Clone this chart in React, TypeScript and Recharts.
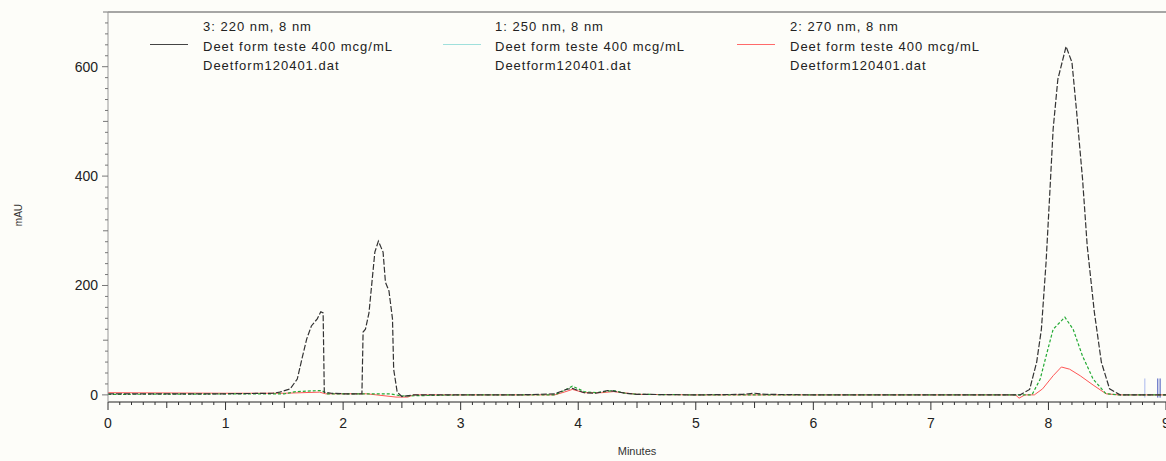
import React from 'react'
import { LineChart, Line, XAxis, YAxis, ReferenceLine } from 'recharts'

// 3: 220 nm trace
const t220 = [0, 0.5, 1.0, 1.4, 1.46, 1.55, 1.61, 1.65, 1.69, 1.73, 1.78, 1.81, 1.83, 1.84, 1.9, 2.0, 2.16, 2.17, 2.19, 2.22, 2.27, 2.3, 2.34, 2.36, 2.39, 2.42, 2.43, 2.46, 2.5, 2.6, 3.0, 3.5, 3.8, 3.9, 3.95, 4.05, 4.15, 4.25, 4.3, 4.4, 4.5, 5.0, 5.4, 5.5, 5.6, 6.0, 7.0, 7.7, 7.76, 7.84, 7.9, 7.94, 7.98, 8.01, 8.04, 8.08, 8.15, 8.2, 8.24, 8.29, 8.33, 8.39, 8.45, 8.52, 8.61, 8.8, 9.0]
const v220 = [2, 2, 2, 3, 5, 11, 29, 66, 102, 126, 139, 152, 150, 5, 3, 2, 2, 115, 120, 150, 261, 281, 261, 206, 190, 139, 47, 5, -3, 0, 0, 0, 2, 10, 12, 4, 3, 8, 7, 3, 1, 0, 1, 3, 1, 0, 0, 0, 0, 10, 60, 120, 243, 363, 486, 577, 637, 608, 517, 395, 272, 152, 60, 11, 0, 0, 0]

// 1: 250 nm trace
const t250 = [0, 1.5, 1.6, 1.7, 1.82, 1.86, 2.0, 2.4, 2.5, 3.0, 3.8, 3.88, 3.95, 4.05, 4.15, 4.3, 4.4, 4.5, 5.0, 7.8, 7.86, 7.93, 7.98, 8.04, 8.14, 8.21, 8.29, 8.38, 8.49, 8.6, 9.0]
const v250 = [1, 2, 6, 7, 8, 2, 2, 2, -2, 0, 0, 8, 16, 6, 4, 8, 3, 1, 0, 0, 0, 29, 71, 120, 142, 120, 71, 29, 2, 0, 0]

// 2: 270 nm trace
const t270 = [0, 1.0, 1.5, 1.8, 1.85, 2.2, 2.45, 2.55, 2.6, 3.0, 3.8, 3.88, 3.95, 4.05, 4.2, 4.3, 4.5, 5.0, 7.0, 7.72, 7.75, 7.8, 7.88, 7.95, 8.04, 8.11, 8.18, 8.27, 8.38, 8.49, 8.6, 9.0]
const v270 = [4, 3, 3, 5, 2, 2, -4, -4, 0, 0, 0, 5, 10, 4, 4, 6, 1, 0, 0, 0, -6, 0, 0, 11, 35, 51, 47, 35, 18, 2, 0, 0]

const eventTimes = [8.82, 8.93, 8.95]
const eventColors = ['#aab8ee', '#4455bb', '#4455bb']

const xLabels = [0, 1, 2, 3, 4, 5, 6, 7, 8, 9]
const yLabels = [0, 200, 400, 600]

const legendItems = [
  { head: '3: 220 nm, 8 nm', color: '#444', left: 150, textLeft: 203 },
  { head: '1: 250 nm, 8 nm', color: '#9fe0dc', left: 443, textLeft: 495 },
  { head: '2: 270 nm, 8 nm', color: '#ff6a6a', left: 737, textLeft: 790 },
]
const sampleName = 'Deet form teste 400 mcg/mL'
const fileName = 'Deetform120401.dat'

const xTicks = Array.from({ length: 91 }, (_, i) => i / 10)
const yTicks = Array.from({ length: 36 }, (_, i) => i * 20)

const toRows = (ts: number[], vs: number[]) => ts.map((t, i) => ({ t, v: vs[i] }))

const font = '"Liberation Sans", Arial, sans-serif'

const XTick = (props: any) => {
  const { x, y, payload } = props
  const val = Math.round(payload.value * 10)
  const major = val % 10 === 0
  const half = val % 5 === 0
  const len = major ? 8 : half ? 6 : 3
  return (
    <g>
      <line x1={x} x2={x} y1={y} y2={y + len} stroke="#333" strokeWidth={1} />
      {major && xLabels.includes(val / 10) && (
        <text x={x} y={y + 26} textAnchor="middle" fontSize={14} fontFamily={font} fill="#222">
          {val / 10}
        </text>
      )}
    </g>
  )
}

const YTick = (props: any) => {
  const { x, y, payload } = props
  const v = payload.value
  const major = v % 200 === 0
  const mid = v % 100 === 0
  const len = major ? 6 : mid ? 5 : 3
  return (
    <g>
      <line x1={x - len} x2={x} y1={y} y2={y} stroke="#777" strokeWidth={1} />
      {yLabels.includes(v) && (
        <text x={x - 10} y={y + 5} textAnchor="end" fontSize={14} fontFamily={font} fill="#222">
          {v}
        </text>
      )}
    </g>
  )
}

const LegendBox = () => (
  <div style={{ position: 'absolute', left: 0, top: 0, width: 1166, height: 80, fontFamily: font, fontSize: 13, letterSpacing: 1, color: '#222', pointerEvents: 'none' }}>
    {legendItems.map((it) => (
      <React.Fragment key={it.head}>
        <div style={{ position: 'absolute', left: it.left, top: 44, width: 38, height: 0, borderTop: `1px solid ${it.color}` }} />
        <div style={{ position: 'absolute', left: it.textLeft, top: 17, lineHeight: '19.5px', whiteSpace: 'nowrap' }}>
          <div>{it.head}</div>
          <div>{sampleName}</div>
          <div>{fileName}</div>
        </div>
      </React.Fragment>
    ))}
  </div>
)

export default function App() {
  return (
    <div style={{ position: 'absolute', left: 0, top: 0, width: 1166, height: 461, background: '#fdfdf9', overflow: 'hidden' }}>
      <LineChart width={1166} height={461} margin={{ top: 12, right: 0, bottom: 0, left: 0 }}>
        <XAxis
          dataKey="t"
          type="number"
          domain={[0, 9]}
          ticks={xTicks}
          interval={0}
          height={59}
          axisLine={{ stroke: '#222' }}
          tickLine={false}
          tickSize={0}
          tickMargin={0}
          tick={<XTick />}
          allowDataOverflow
          label={{ value: 'Minutes', position: 'insideBottom', offset: 6, fontSize: 11, fontFamily: font, fill: '#333' }}
        />
        <YAxis
          type="number"
          domain={[-13, 700]}
          ticks={yTicks}
          interval={0}
          width={108}
          axisLine={{ stroke: '#999' }}
          tickLine={false}
          tickSize={0}
          tickMargin={0}
          tick={<YTick />}
          allowDataOverflow
          label={{
            content: (p: any) => (
              <text
                x={22}
                y={p.viewBox.y + p.viewBox.height / 2 + 8}
                transform={`rotate(-90 22 ${p.viewBox.y + p.viewBox.height / 2 + 8})`}
                textAnchor="middle"
                fontSize={10}
                fontFamily={font}
                fill="#333"
              >
                mAU
              </text>
            ),
          }}
        />
        <ReferenceLine y={700} stroke="#888" strokeWidth={1.5} ifOverflow="visible" />
        {eventTimes.map((t, i) => (
          <ReferenceLine
            key={t}
            segment={[{ x: t, y: -5 }, { x: t, y: 30 }]}
            stroke={eventColors[i]}
            strokeWidth={1}
          />
        ))}
        <Line data={toRows(t270, v270)} dataKey="v" name="270" stroke="#ff5555" strokeWidth={1} dot={false} isAnimationActive={false} />
        <Line data={toRows(t250, v250)} dataKey="v" name="250" stroke="#22aa33" strokeWidth={1.2} strokeDasharray="3 2" dot={false} isAnimationActive={false} />
        <Line data={toRows(t220, v220)} dataKey="v" name="220" stroke="#333" strokeWidth={1.2} strokeDasharray="6 2" dot={false} isAnimationActive={false} />
      </LineChart>
      <LegendBox />
    </div>
  )
}
